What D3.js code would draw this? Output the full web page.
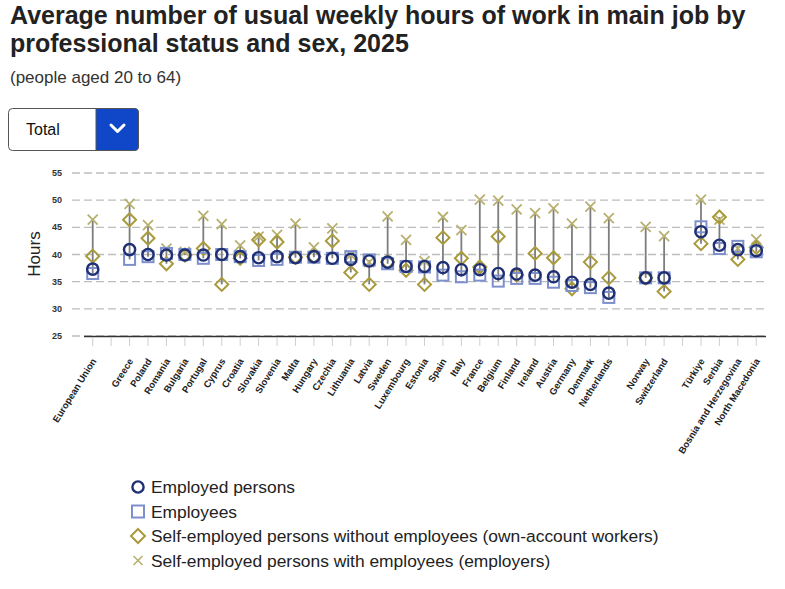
<!DOCTYPE html>
<html lang="en">
<head>
<meta charset="UTF-8">
<title>Usual weekly hours</title>
<style>
  body { margin: 0; background: #fff; font-family: "Liberation Sans", Arial, sans-serif; }
  svg text { font-family: "Liberation Sans", Arial, sans-serif; }
</style>
</head>
<body>
<script src="https://cdn.jsdelivr.net/npm/d3@7"></script>
<script>
// categories ("" = empty slot between groups)
var categories = ["European Union", "", "Greece", "Poland", "Romania", "Bulgaria", "Portugal", "Cyprus",
  "Croatia", "Slovakia", "Slovenia", "Malta", "Hungary", "Czechia", "Lithuania", "Latvia", "Sweden",
  "Luxembourg", "Estonia", "Spain", "Italy", "France", "Belgium", "Finland", "Ireland", "Austria",
  "Germany", "Denmark", "Netherlands", "", "Norway", "Switzerland", "", "Türkiye", "Serbia",
  "Bosnia and Herzegovina", "North Macedonia"];

var employed = [37.3, null, 40.9, 40.0, 39.9, 39.9, 39.9, 40.0, 39.6, 39.4, 39.6, 39.4, 39.6, 39.3, 39.1,
  38.8, 38.6, 37.8, 37.8, 37.6, 37.2, 37.2, 36.5, 36.4, 36.2, 35.9, 34.9, 34.5, 32.9, null, 35.7, 35.7,
  null, 44.2, 41.7, 40.9, 40.7];
var employees = [36.5, null, 39.1, 39.6, 40.2, 40.0, 39.3, 40.0, 39.6, 38.9, 39.1, 39.5, 39.5, 39.3, 39.6,
  39.0, 38.3, 37.8, 37.7, 36.2, 35.9, 36.2, 35.1, 35.6, 35.6, 34.9, 34.3, 33.9, 32.1, null, 35.7, 35.7,
  null, 45.1, 41.1, 41.5, 40.5];
var ownAccount = [39.7, null, 46.4, 43.0, 38.3, 39.9, 41.1, 34.5, 39.3, 42.7, 42.3, 39.5, 39.6, 42.5, 36.7,
  34.5, 38.6, 37.1, 34.5, 43.1, 39.3, 37.7, 43.3, 36.2, 40.2, 39.4, 33.7, 38.6, 35.7, null, 35.7, 33.2,
  null, 42.0, 46.9, 39.1, 41.3];
var employers = [46.4, null, 49.3, 45.4, 41.1, 40.5, 47.1, 45.6, 41.7, 43.3, 43.6, 45.7, 41.3, 44.8, 39.9,
  38.6, 47.0, 42.7, 38.8, 46.9, 44.5, 50.1, 49.9, 48.3, 47.6, 48.5, 45.7, 48.8, 46.7, null, 45.1, 43.4,
  null, 50.1, 46.4, 41.1, 42.8];

var yTicks = [25, 30, 35, 40, 45, 50, 55];

var seriesNames = ["Employed persons", "Employees",
  "Self-employed persons without employees (own-account workers)",
  "Self-employed persons with employees (employers)"];

var W = 785, H = 589;
var svg = d3.select("body").append("svg").attr("width", W).attr("height", H);

// title
svg.append("text").attr("x", 10).attr("y", 24)
  .style("font-size", "25px").style("font-weight", "bold").attr("fill", "#222")
  .text("Average number of usual weekly hours of work in main job by");
svg.append("text").attr("x", 10).attr("y", 52)
  .style("font-size", "25px").style("font-weight", "bold").attr("fill", "#222")
  .text("professional status and sex, 2025");
svg.append("text").attr("x", 10).attr("y", 83)
  .style("font-size", "17px").attr("fill", "#333")
  .text("(people aged 20 to 64)");

// dropdown
var dd = svg.append("g");
dd.append("rect").attr("x", 8.5).attr("y", 108.5).attr("width", 130).attr("height", 42)
  .attr("rx", 4).attr("fill", "#fff").attr("stroke", "#555");
dd.append("path")
  .attr("d", "M96,108.5 H134.5 A4,4 0 0 1 138.5,112.5 V146.5 A4,4 0 0 1 134.5,150.5 H96 Z")
  .attr("fill", "#0f47c8").attr("stroke", "#555");
dd.append("text").attr("x", 26).attr("y", 135).style("font-size", "16px").attr("fill", "#111").text("Total");
dd.append("path").attr("d", "M111,125 L117.5,131.5 L124,125")
  .attr("fill", "none").attr("stroke", "#fff").attr("stroke-width", 3)
  .attr("stroke-linecap", "round").attr("stroke-linejoin", "round");

// scales
var x = d3.scaleBand().domain(d3.range(categories.length)).range([83.5, 765.5]);
var y = d3.scaleLinear().domain([25, 55]).range([336, 173]);

// grid
svg.append("g").selectAll("line").data(yTicks).enter().append("line")
  .attr("x1", 72).attr("x2", 765.5)
  .attr("y1", function(d){ return y(d); }).attr("y2", function(d){ return y(d); })
  .attr("stroke", "#bdbdbd").attr("stroke-width", 1.3).attr("stroke-dasharray", "8,4");

// y tick labels
svg.append("g").selectAll("text").data(yTicks).enter().append("text")
  .attr("x", 62).attr("y", function(d){ return y(d); }).attr("dy", "0.35em")
  .attr("text-anchor", "end").style("font-size", "9px").style("font-weight", "bold")
  .attr("fill", "#333").text(function(d){ return d; });

svg.append("text").attr("transform", "translate(40,254) rotate(-90)")
  .attr("text-anchor", "middle").style("font-size", "17px").attr("fill", "#222").text("Hours");

// x axis
var xAxis = svg.append("g").attr("transform", "translate(0," + y(25) + ")")
  .call(d3.axisBottom(x).tickSize(10).tickSizeOuter(0).tickPadding(4)
    .tickFormat(function(i){ return categories[i]; }));
xAxis.select(".domain").attr("stroke", "#333").attr("stroke-width", 1.6);
xAxis.selectAll(".tick line").attr("stroke", "#cfcfcf").attr("y1", 2);
xAxis.selectAll(".tick text")
  .attr("text-anchor", "end").attr("fill", "#222")
  .style("font-size", "9.5px").style("font-weight", "bold")
  .attr("x", 0).attr("y", 0).attr("dy", 0)
  .attr("transform", "translate(4,25) rotate(-58)");

// range lines
var idx = d3.range(categories.length).filter(function(i){ return employed[i] != null; });
var cx = function(i){ return x(i) + x.bandwidth() / 2; };

svg.append("g").selectAll("line").data(idx).enter().append("line")
  .attr("x1", cx).attr("x2", cx)
  .attr("y1", function(i){ return y(d3.max([employed[i], employees[i], ownAccount[i], employers[i]])); })
  .attr("y2", function(i){ return y(d3.min([employed[i], employees[i], ownAccount[i], employers[i]])); })
  .attr("stroke", "#7d7d7d").attr("stroke-width", 1.8);

// markers
var cEmployed = "#1f2f73", cEmployees = "#7e90cc", cOwn = "#a99b3b", cEmployers = "#b8b070";

svg.append("g").selectAll("path").data(idx).enter().append("path")
  .attr("transform", function(i){ return "translate(" + cx(i) + "," + y(employers[i]) + ")"; })
  .attr("d", "M-5,-5L5,5M-5,5L5,-5")
  .attr("stroke", cEmployers).attr("stroke-width", 1.8).attr("fill", "none");

svg.append("g").selectAll("path").data(idx).enter().append("path")
  .attr("transform", function(i){ return "translate(" + cx(i) + "," + y(ownAccount[i]) + ")"; })
  .attr("d", "M0,-6.5L6.5,0L0,6.5L-6.5,0Z")
  .attr("stroke", cOwn).attr("stroke-width", 2).attr("fill", "none");

svg.append("g").selectAll("rect").data(idx).enter().append("rect")
  .attr("x", function(i){ return cx(i) - 5.5; }).attr("y", function(i){ return y(employees[i]) - 5.5; })
  .attr("width", 11).attr("height", 11)
  .attr("stroke", cEmployees).attr("stroke-width", 2).attr("fill", "none");

svg.append("g").selectAll("circle").data(idx).enter().append("circle")
  .attr("cx", cx).attr("cy", function(i){ return y(employed[i]); }).attr("r", 5.6)
  .attr("stroke", cEmployed).attr("stroke-width", 2.4).attr("fill", "none");

// legend
var leg = svg.append("g").attr("transform", "translate(138,487)");
var rows = leg.selectAll("g").data(seriesNames).enter().append("g")
  .attr("transform", function(d, i){ return "translate(0," + (i * 24.5) + ")"; });
rows.append("text").attr("x", 13).attr("dy", "0.35em").style("font-size", "17.4px").attr("fill", "#222")
  .text(function(d){ return d; });
leg.append("circle").attr("r", 5.6).attr("fill", "none").attr("stroke", cEmployed).attr("stroke-width", 2.4);
leg.append("rect").attr("x", -6).attr("y", 24.5 - 6).attr("width", 12).attr("height", 12)
  .attr("fill", "none").attr("stroke", cEmployees).attr("stroke-width", 2);
leg.append("path").attr("d", "M0,42L7,49L0,56L-7,49Z").attr("fill", "none").attr("stroke", cOwn).attr("stroke-width", 2);
leg.append("path").attr("d", "M-4.5,69L4.5,78M-4.5,78L4.5,69").attr("fill", "none").attr("stroke", cEmployers).attr("stroke-width", 1.6);
</script>
</body>
</html>
